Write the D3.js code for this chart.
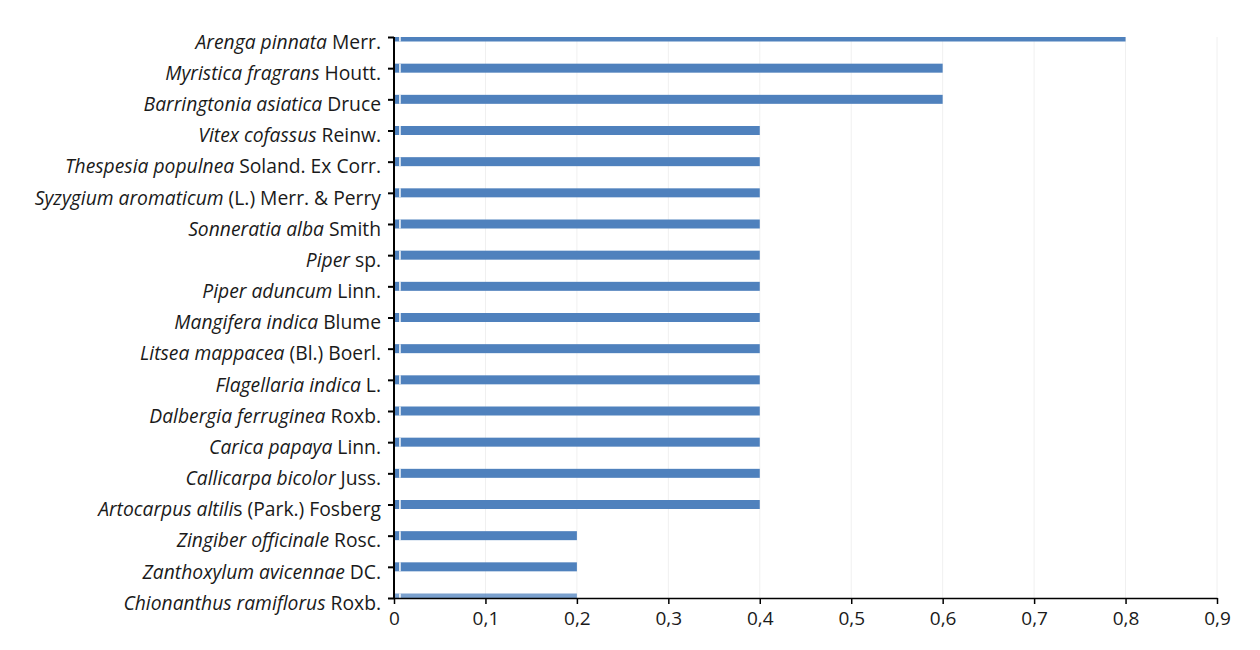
<!DOCTYPE html>
<html>
<head>
<meta charset="utf-8">
<script src="https://cdn.jsdelivr.net/npm/d3@7"></script>
<style>
  body { margin: 0; background: #fff; }
  svg { display: block; }
  text { font-family: "Open Sans", sans-serif; fill: #1a1a1a; }
</style>
</head>
<body>
<svg width="1260" height="650"></svg>
<script>
// species names: italic part, then the upright author part
var italicNames = [
  "Arenga pinnata", "Myristica fragrans", "Barringtonia asiatica", "Vitex cofassus",
  "Thespesia populnea", "Syzygium aromaticum", "Sonneratia alba", "Piper",
  "Piper aduncum", "Mangifera indica", "Litsea mappacea", "Flagellaria indica",
  "Dalbergia ferruginea", "Carica papaya", "Callicarpa bicolor", "Artocarpus altili",
  "Zingiber officinale", "Zanthoxylum avicennae", "Chionanthus ramiflorus"
];
var authors = [
  " Merr.", " Houtt.", " Druce", " Reinw.",
  " Soland. Ex Corr.", " (L.) Merr. & Perry", " Smith", " sp.",
  " Linn.", " Blume", " (Bl.) Boerl.", " L.",
  " Roxb.", " Linn.", " Juss.", "s (Park.) Fosberg",
  " Rosc.", " DC.", " Roxb."
];
var values = [0.8, 0.6, 0.6, 0.4, 0.4, 0.4, 0.4, 0.4, 0.4, 0.4, 0.4, 0.4, 0.4, 0.4, 0.4, 0.4, 0.2, 0.2, 0.2];
var xTicks = [0, 0.1, 0.2, 0.3, 0.4, 0.5, 0.6, 0.7, 0.8, 0.9];

var svg = d3.select("svg");
var mLeft = 394, mRight = 1217, mTop = 37, mBottom = 598;
var ids = d3.range(values.length);

var x = d3.scaleLinear().domain([0, 0.9]).range([mLeft, mRight]);
var y = d3.scalePoint().domain(ids).range([mTop, mBottom]);

svg.append("defs").append("clipPath").attr("id", "plot")
  .append("rect").attr("x", mLeft).attr("y", mTop).attr("width", mRight - mLeft).attr("height", mBottom - mTop);

// faint vertical gridlines
svg.append("g").selectAll("line")
  .data(xTicks.slice(1))
  .enter().append("line")
    .attr("x1", function(d) { return x(d); })
    .attr("x2", function(d) { return x(d); })
    .attr("y1", mTop)
    .attr("y2", mBottom)
    .attr("stroke", "#f0f0f0")
    .attr("stroke-width", 1);

var bh = 9;
var bars = svg.append("g").attr("clip-path", "url(#plot)");
bars.selectAll("rect")
  .data(ids)
  .enter().append("rect")
    .attr("x", x(0))
    .attr("y", function(i) { return y(i) - bh / 2; })
    .attr("width", function(i) { return x(values[i]) - x(0); })
    .attr("height", bh)
    .attr("fill", "#4f81bd")
    .attr("fill-opacity", function(i) { return i === values.length - 1 ? 0.75 : 1; });

// thin white break near the start of each bar
bars.selectAll("line")
  .data(ids)
  .enter().append("line")
    .attr("x1", x(0.0065))
    .attr("x2", x(0.0065))
    .attr("y1", function(i) { return y(i) - bh / 2; })
    .attr("y2", function(i) { return y(i) + bh / 2; })
    .attr("stroke", "#fff")
    .attr("stroke-width", 1.5);

// y axis
var yAxis = svg.append("g")
  .attr("transform", "translate(" + mLeft + ",0)")
  .call(d3.axisLeft(y).tickSize(6).tickFormat(""));
yAxis.select(".domain").attr("stroke", "#000").attr("stroke-width", 2).attr("d", "M0," + mTop + "V" + mBottom);
yAxis.selectAll(".tick line").attr("stroke", "#000").attr("stroke-width", 2);

svg.append("g").selectAll("text")
  .data(ids)
  .enter().append("text")
    .attr("x", mLeft - 13)
    .attr("y", function(i) { return y(i) + 5; })
    .attr("dy", "0.35em")
    .attr("text-anchor", "end")
    .style("font-size", "19.3px")
    .each(function(i) {
      var t = d3.select(this);
      t.append("tspan").style("font-style", "italic").text(italicNames[i]);
      t.append("tspan").text(authors[i]);
    });

// x axis
var xAxis = svg.append("g")
  .attr("transform", "translate(0," + mBottom + ")")
  .call(d3.axisBottom(x).tickValues(xTicks).tickSize(6).tickSizeOuter(0)
    .tickFormat(function(d) { return d === 0 ? "0" : d3.format(".1f")(d).replace(".", ","); }));
xAxis.select(".domain").attr("stroke", "#000").attr("stroke-width", 1.5);
xAxis.selectAll(".tick line").attr("stroke", "#000").attr("stroke-width", 1.5);
xAxis.selectAll(".tick text")
  .attr("y", 14)
  .style("font-size", "19px")
  .style("font-family", "'Open Sans', sans-serif")
  .attr("fill", "#1a1a1a");
</script>
</body>
</html>
